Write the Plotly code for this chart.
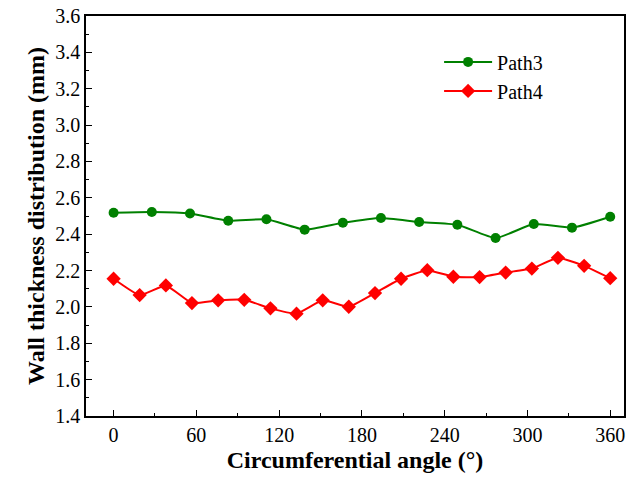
import plotly.graph_objects as go

# Data
path3_angle = [0, 27.7, 55.4, 83.1, 110.8, 138.5, 166.2, 193.8, 221.5, 249.2, 276.9, 304.6, 332.3, 360]
path3_thick = [2.518, 2.522, 2.514, 2.474, 2.482, 2.425, 2.463, 2.489, 2.467, 2.452, 2.379, 2.456, 2.436, 2.496]

path4_angle = [0, 18.9, 37.9, 56.8, 75.8, 94.7, 113.7, 132.6, 151.6, 170.5,
               189.5, 208.4, 227.4, 246.3, 265.3, 284.2, 303.2, 322.1, 341.1, 360]
path4_thick = [2.155, 2.065, 2.118, 2.021, 2.036, 2.039, 1.992, 1.963, 2.036, 2.001,
               2.076, 2.155, 2.202, 2.166, 2.164, 2.189, 2.211, 2.270, 2.226, 2.158]

x_ticks = [0, 60, 120, 180, 240, 300, 360]
y_ticks = [1.4, 1.6, 1.8, 2.0, 2.2, 2.4, 2.6, 2.8, 3.0, 3.2, 3.4, 3.6]

FONT = "Liberation Serif"

fig = go.Figure()
fig.add_trace(go.Scatter(
    x=path3_angle, y=path3_thick, name="Path3", mode="lines+markers",
    line=dict(color="#008000", width=2, shape="spline", smoothing=0.5),
    marker=dict(symbol="circle", size=10, color="#008000"),
))
fig.add_trace(go.Scatter(
    x=path4_angle, y=path4_thick, name="Path4", mode="lines+markers",
    line=dict(color="#FF0000", width=2, shape="spline", smoothing=0.4),
    marker=dict(symbol="diamond", size=11, color="#FF0000"),
))

axis_common = dict(
    showline=True, linecolor="black", linewidth=1.5, mirror=True,
    ticks="inside", ticklen=6, tickwidth=1.2, tickcolor="black",
    showgrid=False, zeroline=False, ticklabeloverflow="allow",
    tickfont=dict(family=FONT, size=20, color="black"),
)

fig.update_xaxes(
    range=[-20, 370], tickvals=x_ticks, ticktext=[str(v) for v in x_ticks],
    minor=dict(ticks="inside", ticklen=3, tickwidth=1.2, tickcolor="black", dtick=30, tick0=0),
    title=dict(text="<b>Circumferential angle (°)</b>", font=dict(family=FONT, size=24, color="black"), standoff=6),
    automargin="bottom",
    **axis_common,
)
fig.update_yaxes(
    range=[1.4, 3.6], tickvals=y_ticks, ticktext=[f"{v:.1f}" for v in y_ticks],
    minor=dict(ticks="inside", ticklen=3, tickwidth=1.2, tickcolor="black", dtick=0.1, tick0=1.4),
    title=dict(text="<b>Wall thickness distribution (mm)</b>", font=dict(family=FONT, size=24, color="black"), standoff=4),
    automargin="left",
    **axis_common,
)

fig.update_layout(
    width=637, height=480,
    margin=dict(l=86, r=13, t=16, b=64),
    paper_bgcolor="white", plot_bgcolor="white",
    font=dict(family=FONT, color="black"),
    legend=dict(
        x=0.6563, y=0.934, xanchor="left", yanchor="top",
        bgcolor="rgba(0,0,0,0)", borderwidth=0,
        font=dict(family=FONT, size=20, color="black"),
        itemwidth=48, tracegroupgap=0,
    ),
)

# remove the default 8px page margin so the figure fills the window exactly
fig.write_html("out.html", config={"displayModeBar": False},
               post_script="document.body.style.margin='0';")
